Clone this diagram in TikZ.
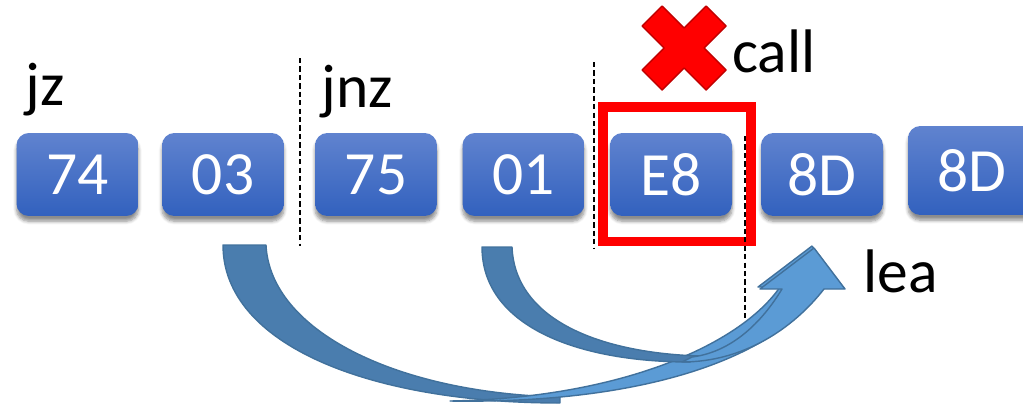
\documentclass[tikz,border=0pt]{standalone}
\usepackage{fontspec}
\setmainfont{Carlito}
\usetikzlibrary{shadows.blur}
\definecolor{boxtop}{RGB}{96,131,207}
\definecolor{boxbot}{RGB}{50,97,190}
\definecolor{arrdark}{RGB}{74,125,174}
\definecolor{arrlight}{RGB}{91,155,213}
\definecolor{arredge}{RGB}{65,113,156}
\definecolor{xred}{RGB}{255,0,0}
\definecolor{xedge}{RGB}{192,0,0}
\tikzset{
 bytebox/.style={rounded corners=7pt, minimum width=2.44cm, minimum height=1.66cm,
   top color=boxtop, bottom color=boxbot, text=white, font=\fontsize{35}{42}\selectfont,
   inner sep=0pt, blur shadow={shadow xshift=0pt, shadow yshift=-3pt, shadow opacity=45, shadow blur steps=6}},
 lbl/.style={font=\fontsize{35}{42}\selectfont, anchor=base west, inner sep=0pt},
 sep/.style={dash pattern=on 3pt off 1.8pt, line width=1.5pt},
 darkarr/.style={fill=arrdark, draw=arredge, line width=0.8pt, line join=round},
 lightarr/.style={fill=arrlight, draw=arredge, line width=0.8pt, line join=round},
 hilite/.style={draw=xred, line width=5.67pt},
 crossmark/.style={fill=xred, draw=xedge, line width=0.8pt, line join=round},
}
\begin{document}
\begin{tikzpicture}[x=0.02cm,y=-0.02cm]
\useasboundingbox (0,0) rectangle (1023,406);

% separators
\draw[sep] (300,58) coordinate (s1a) -- (300,246) coordinate (s1b);
\draw[sep] (594,62) coordinate (s2a) -- (594,248) coordinate (s2b);

% byte boxes
\node[bytebox] (b74) at (77.5,174.5) {74};
\node[bytebox] (b03) at (223,174.5) {03};
\node[bytebox] (b75) at (376,174.5) {75};
\node[bytebox] (b01) at (523.5,174.5) {01};
\node[bytebox] (bE8) at (671,174.5) {E8};
\node[bytebox] (b8D) at (822,174.5) {8D};
\node[bytebox, minimum width=2.56cm, minimum height=1.78cm] (b8Dx) at (972,170.5) {8D};

% highlight of E8
\draw[hilite] (603,107) rectangle (751,241.5);
\draw[sep] (745,136) coordinate (s3a) -- (745,322) coordinate (s3b);

% labels
\node[lbl] (ljz) at (25,105) {jz};
\node[lbl] (ljnz) at (321,107) {jnz};
\node[lbl] (lcall) at (732,72) {call};
\node[lbl] (llea) at (863,292) {lea};

% cross
\path[crossmark] (684,28) -- (706,6) -- (726,26) -- (704,48) -- (726,70) -- (706,90)
  -- (684,68) -- (662,90) -- (642,70) -- (664,48) -- (642,26) -- (662,6) -- cycle;

% big curved arrow (jz target)
\path[darkarr] (223,245) .. controls (223,345) and (370,403) .. (560,403)
  -- (560,397) .. controls (395,393) and (270,330) .. (266,245) -- cycle;
\path[lightarr] (450,401) .. controls (640,404) and (775,360) .. (822,287)
  -- (843,287) -- (812,246) -- (758,287) -- (780,287)
  .. controls (740,345) and (620,398) .. (450,401) -- cycle;

% small curved arrow (jnz target)
\path[darkarr] (482,247) .. controls (482,325) and (575,362) .. (690,362)
  -- (700,356) .. controls (600,353) and (515,320) .. (512,247) -- cycle;
\path[lightarr] (682,362) .. controls (742,362) and (792,330) .. (824,289)
  -- (845,289) -- (814,248) -- (760,289) -- (782,289)
  .. controls (762,322) and (732,352) .. (692,357) -- cycle;
\end{tikzpicture}
\end{document}
